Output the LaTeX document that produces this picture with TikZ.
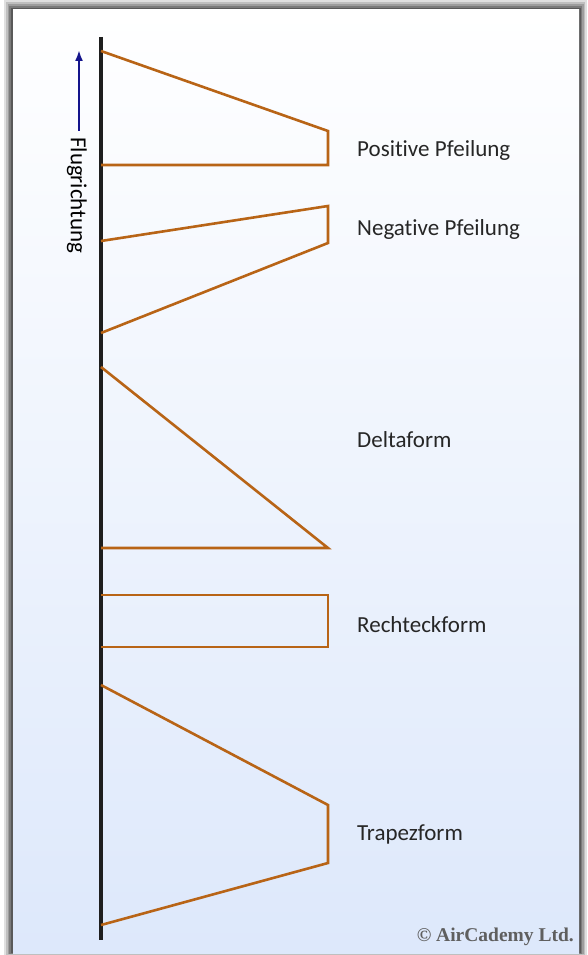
\documentclass[tikz,border=0pt]{standalone}
\usepackage{xcolor}
\usepackage{tikz}
\usetikzlibrary{positioning,arrows.meta}
\usepackage{fontspec}
\setmainfont{Carlito}[Ligatures={NoCommon}]
\newfontfamily\brandfont{Liberation Serif}
\definecolor{wingo}{RGB}{184,100,22}
\definecolor{axisk}{RGB}{30,30,30}
\definecolor{flightb}{RGB}{20,20,140}
\definecolor{panelbot}{RGB}{221,232,251}
\definecolor{brandgr}{RGB}{95,95,95}

\begin{document}
\begin{tikzpicture}[
  x=1pt, y=-1pt,
  wing/.style={draw=wingo, line width=2.6pt, line join=miter},
  lbl/.style={anchor=west, inner sep=0pt, font=\fontsize{23}{27}\selectfont, text=black!85},
  arr/.style={-{Latex[length=11pt,width=8pt]}, line width=2pt, color=flightb}
]
\useasboundingbox (0,0) rectangle (587,955);
% shadow and panel
\foreach \s/\o in {10/0.12,8/0.15,6/0.18,4/0.22,2/0.28}
  \fill[black, opacity=\o] (13-\s*0.9,10-\s) rectangle (579+\s*0.8,953+\s*0.2);
\shade[top color=white, bottom color=panelbot] (13,10) rectangle (579,953);

% axis
\coordinate (ax top) at (101,37);
\coordinate (ax bot) at (101,940);
\draw[axisk, line width=4pt] (ax top) -- (ax bot);

\coordinate (fl tail) at (79,131);
\coordinate (fl tip) at (79,50);
\draw[arr] (fl tail) -- (fl tip);
\node[rotate=-90, anchor=west, inner sep=0pt, font=\fontsize{23}{27}\selectfont] (flug) at (77,137) {Flugrichtung};

% wings
\draw[wing] (101,51) -- (328,131) -- (328,165) -- (101,165);
\draw[wing] (101,241) -- (328,206) -- (328,243) -- (101,333);
\draw[wing] (101,367) -- (328,548) -- (101,548);
\draw[wing] (101,595) -- (328,595) -- (328,647) -- (101,647);
\draw[wing] (101,685) -- (328,805) -- (328,863) -- (101,925);

% labels
\node[lbl] (pos) at (357,150) {Positive Pfeilung};
\node[lbl] (neg) at (357,229) {Negative Pfeilung};
\node[lbl] (delta) at (357,440) {Deltaform};
\node[lbl] (recht) at (357,625) {Rechteckform};
\node[lbl] (trapez) at (357,834) {Trapezform};

\node[anchor=east, inner sep=0pt, text=brandgr, font=\brandfont\bfseries\fontsize{19.5}{22}\selectfont] (brand) at (574,937) {© AirCademy Ltd.};
\end{tikzpicture}
\end{document}
